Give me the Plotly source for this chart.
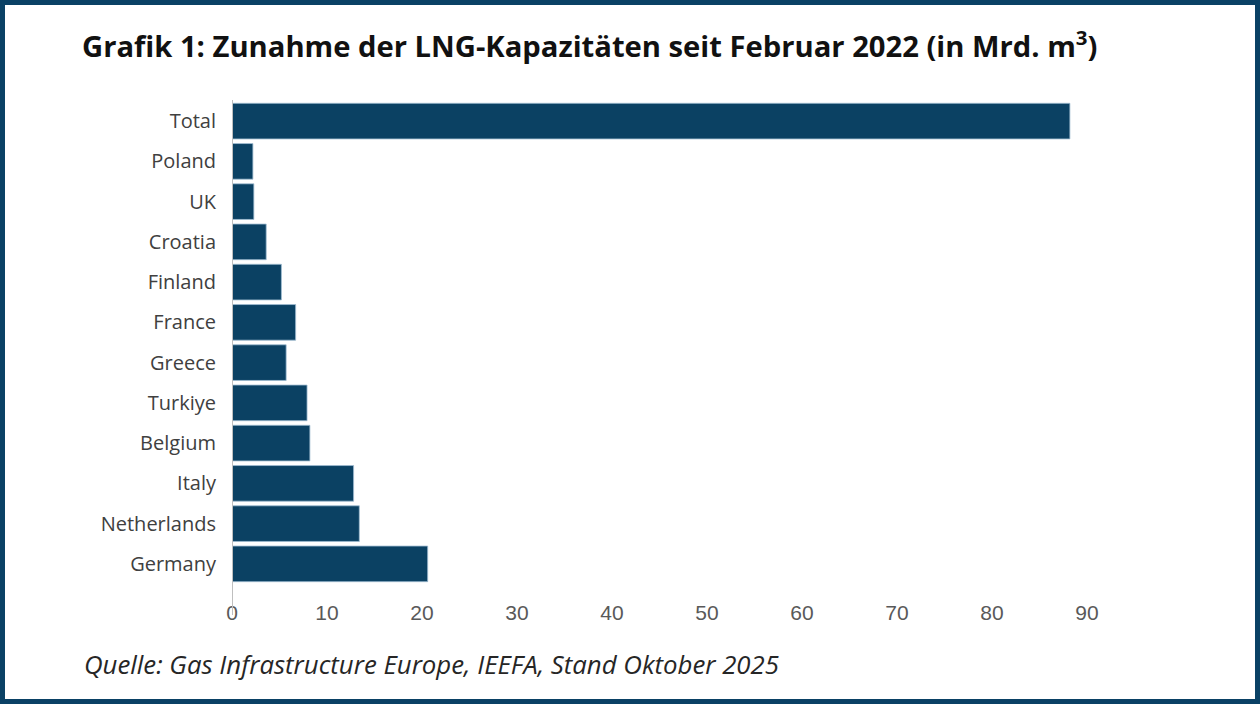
import plotly.graph_objects as go

# LNG capacity added since Feb 2022 (bcm), top to bottom as shown
countries = ["Total", "Poland", "UK", "Croatia", "Finland", "France", "Greece",
             "Turkiye", "Belgium", "Italy", "Netherlands", "Germany"]
capacity = [88.2, 2.2, 2.3, 3.6, 5.2, 6.7, 5.7, 7.9, 8.2, 12.8, 13.4, 20.6]
x_ticks = [0, 10, 20, 30, 40, 50, 60, 70, 80, 90]

title_text = "Grafik 1: Zunahme der LNG-Kapazitäten seit Februar 2022 (in Mrd. m<sup>3</sup>)"
source_text = "Quelle: Gas Infrastructure Europe, IEEFA, Stand Oktober 2025"

W, H = 1260, 704
L, R, T, B = 232, 1087, 101, 584   # plot area in pixels
pw, ph = R - L, B - T

def px_x(p):
    return (p - L) / pw

def px_y(p):
    return (B - p) / ph

navy = "#0b4163"

fig = go.Figure()
fig.add_trace(go.Bar(
    x=capacity, y=countries, orientation="h",
    marker=dict(color=navy, line=dict(color="#9fbcd2", width=0.8)),
    showlegend=False, hoverinfo="x+y",
))

# frame round the whole picture
fig.add_shape(type="rect", xref="paper", yref="paper",
              x0=px_x(2.5), x1=px_x(W - 2.5), y0=px_y(H - 2.5), y1=px_y(2.5),
              line=dict(color="#0a4165", width=5), fillcolor="rgba(0,0,0,0)", layer="above")

# value axis base line, runs down past the bars
fig.add_shape(type="line", xref="x", yref="paper", x0=0, x1=0,
              y0=px_y(615), y1=px_y(100), line=dict(color="#bfbfbf", width=2), layer="above")

fig.add_annotation(text=source_text, xref="paper", yref="paper",
                   x=px_x(82), y=px_y(664), xanchor="left", yanchor="middle",
                   showarrow=False,
                   font=dict(family="Open Sans", size=25.8, color="#262626", style="italic"))

fig.update_layout(
    width=W, height=H,
    margin=dict(l=L, r=W - R, t=T, b=H - B, pad=0),
    paper_bgcolor="white", plot_bgcolor="white",
    bargap=0.115,
    title=dict(text=title_text, xref="container", yref="container",
               x=82 / W, y=1 - 47 / H, xanchor="left", yanchor="middle",
               font=dict(family="Open Sans", size=29.2, color="#111111", weight="bold")),
    xaxis=dict(range=[0, 90], tickvals=x_ticks, showgrid=False, zeroline=False,
               showline=False, ticks="outside", ticklen=0, ticklabelstandoff=10,
               tickfont=dict(family="Liberation Sans", size=21, color="#595959"),
               fixedrange=True),
    yaxis=dict(autorange="reversed", showgrid=False, zeroline=False, showline=False,
               ticks="outside", ticklen=0, ticklabelstandoff=11,
               tickfont=dict(family="Open Sans", size=20, color="#404040"),
               fixedrange=True),
)

# the page's default body margin would push the figure off the frame
fig.write_html("out.html", config={"displayModeBar": False},
               post_script="document.body.style.margin='0';")
